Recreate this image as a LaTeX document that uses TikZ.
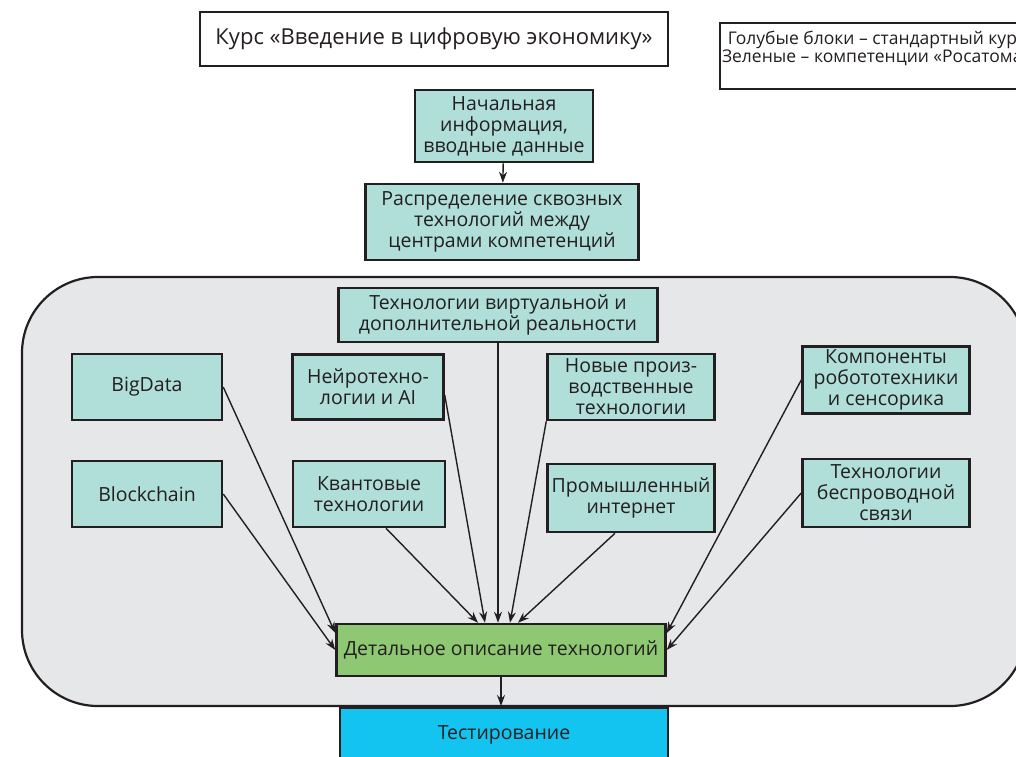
\documentclass[tikz,border=0pt]{standalone}
\usepackage{fontspec}
\setmainfont{Open Sans}
\usetikzlibrary{arrows.meta}
\definecolor{techteal}{HTML}{B0DED8}
\definecolor{zonegray}{HTML}{E6E7E9}
\definecolor{rosgreen}{HTML}{8EC872}
\definecolor{testcyan}{HTML}{13C3F0}
\definecolor{inkline}{HTML}{231F20}
\newcommand{\boxfont}{\fontsize{19.5}{21}\selectfont}
\newcommand{\titlefont}{\fontsize{22}{24}\selectfont}
\newcommand{\notefont}{\fontsize{17.5}{18}\selectfont}
\tikzset{
  box/.style={draw=inkline, line width=2.5pt, align=center, inner sep=0pt, font=\boxfont, text=inkline},
  tech/.style={box, fill=techteal},
  link/.style={draw=inkline, line width=1.4pt, -{Stealth[length=11pt,width=8pt]}}
}

\begin{document}
\begin{tikzpicture}[x=1pt,y=-1pt]
 \useasboundingbox (0,0) rectangle (1016,756);
 \clip (0,0) rectangle (1016,756);

 \draw[fill=zonegray, draw=inkline, line width=2.2pt, rounded corners=76pt] (22,277) rectangle (1026,706);

 \node[box, fill=white, font=\titlefont, minimum width=468, minimum height=54] (course) at (434,39) {Курс «Введение в цифровую экономику»};
 \node[box, fill=white, line width=2pt, font=\notefont, minimum height=66, anchor=north west, inner xsep=2pt, inner ysep=7pt] (legend) at (719,22)
   {Голубые блоки -- стандартный курс\\Зеленые -- компетенции «Росатома»\\\mbox{}};

 \node[tech, minimum width=178, minimum height=72] (init) at (504,126) {Начальная\\информация,\\вводные данные};
 \node[tech, minimum width=273, minimum height=76] (distrib) at (502,222) {Распределение сквозных\\технологий между\\центрами компетенций};

 \node[tech, minimum width=319, minimum height=54] (vr) at (498,315) {Технологии виртуальной и\\дополнительной реальности};
 \node[tech, minimum width=150, minimum height=66] (bigdata) at (147,387) {BigData};
 \node[tech, minimum width=151, minimum height=65] (neuro) at (368,387) {Нейротехно-\\логии и AI};
 \node[tech, minimum width=167, minimum height=66] (newprod) at (631,387) {Новые произ-\\водственные\\технологии};
 \node[tech, minimum width=167, minimum height=67] (robot) at (886,380) {Компоненты\\робототехники\\и сенсорика};
 \node[tech, minimum width=150, minimum height=66] (chain) at (147,494) {Blockchain};
 \node[tech, minimum width=152, minimum height=66] (quantum) at (369,494) {Квантовые\\технологии};
 \node[tech, minimum width=167, minimum height=68] (inet) at (631,498) {Промышленный\\интернет};
 \node[tech, minimum width=167, minimum height=68] (wireless) at (886,493) {Технологии\\беспроводной\\связи};

 \node[box, fill=rosgreen, minimum width=329, minimum height=52] (detail) at (501,650) {Детальное описание технологий};
 \node[box, fill=testcyan, minimum width=328, minimum height=56, anchor=north] (test) at (504,706) {Тестирование};

 \draw[link] (init) -- (distrib);
 \draw[link] (bigdata.east) -- ([yshift=17pt]detail.west);
 \draw[link] (chain.east) -- (detail.west);
 \draw[link] (robot.west) -- ([yshift=17pt]detail.east);
 \draw[link] (wireless.west) -- (detail.east);
 \draw[link] ([xshift=17pt]quantum.south) -- ([xshift=-23pt]detail.north);
 \draw[link] ([yshift=-8pt]neuro.east) -- ([xshift=-16pt]detail.north);
 \draw[link] (vr.south) -- (vr.south |- detail.north);
 \draw[link] (newprod.south west) -- ([xshift=9pt]detail.north);
 \draw[link] ([xshift=-16pt]inet.south) -- ([xshift=17pt]detail.north);
 \draw[link] (detail.south) -- (detail.south |- test.north);

\end{tikzpicture}
\end{document}
